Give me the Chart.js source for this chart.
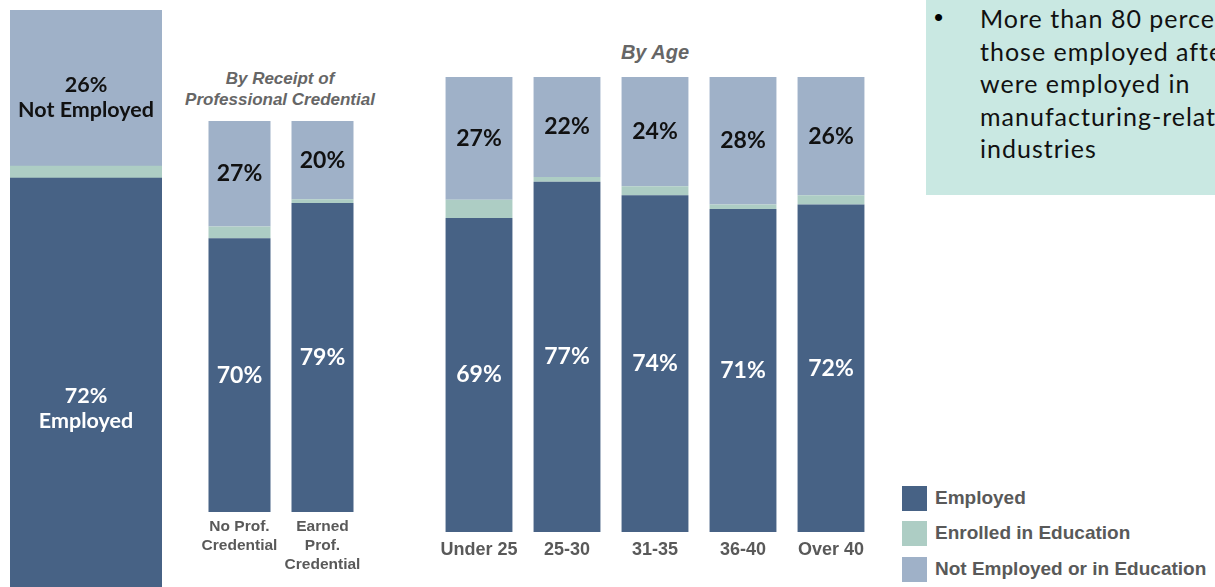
<!DOCTYPE html>
<html>
<head>
<meta charset="utf-8">
<script src="https://cdn.jsdelivr.net/npm/chart.js@4"></script>
<style>
  html, body { margin: 0; padding: 0; background: #fff; }
  body { width: 1215px; height: 587px; overflow: hidden; position: relative; font-family: "Liberation Sans", Arial, sans-serif; }
  canvas { position: absolute; }
  .title { position: absolute; color: #666; font-style: italic; font-weight: bold; text-align: center; }
  .note { position: absolute; left: 926px; top: 0; width: 320px; height: 195px; background: #c9e8e2; }
  .note .dot { position: absolute; left: 8px; top: 2px; font-size: 26px; }
  .note .txt { position: absolute; left: 54px; top: 2px; font-family: Lato, "Noto Sans", sans-serif; font-size: 25px; letter-spacing: 1px; line-height: 32.5px; color: #111; white-space: nowrap; }
  .legend { position: absolute; left: 902px; font-weight: bold; font-size: 19px; color: #595959; white-space: nowrap; }
  .legend span { display: inline-block; width: 25px; height: 25px; vertical-align: middle; margin-right: 8px; }
</style>
</head>
<body>

<canvas id="overallChart" width="152" height="600" style="left:10px; top:10px;"></canvas>
<canvas id="credChart" width="166" height="461" style="left:198px; top:121px;"></canvas>
<canvas id="ageChart" width="440" height="490" style="left:435px; top:77px;"></canvas>

<div class="title" style="left:180px; top:68px; width:200px; font-size:17px; line-height:21px;">By Receipt of<br>Professional Credential</div>
<div class="title" style="left:555px; top:41px; width:200px; font-size:20px;">By Age</div>

<div class="note">
  <div class="dot">&#8226;</div>
  <div class="txt">More than 80 percent of<br>those employed after<br>were employed in<br>manufacturing-related<br>industries</div>
</div>

<div class="legend" style="top:486px;"><span style="background:#476285"></span>Employed</div>
<div class="legend" style="top:521px;"><span style="background:#adcdc4"></span>Enrolled in Education</div>
<div class="legend" style="top:557px;"><span style="background:#9fb1c8"></span>Not Employed or in Education</div>

<script>
// Overall
const overallLabels = ['All'];
const overallEmployed = [72];
const overallEnrolled = [2];
const overallNotEmployed = [26];

// By receipt of professional credential
const credLabels = [['No Prof.', 'Credential'], ['Earned', 'Prof.', 'Credential']];
const credEmployed = [70, 79];
const credEnrolled = [3, 1];
const credNotEmployed = [27, 20];

// By age
const ageLabels = ['Under 25', '25-30', '31-35', '36-40', 'Over 40'];
const ageEmployed = [69, 77, 74, 71, 72];
const ageEnrolled = [4, 1, 2, 1, 2];
const ageNotEmployed = [27, 22, 24, 28, 26];

const colEmployed = '#476285';
const colEnrolled = '#adcdc4';
const colNotEmployed = '#9fb1c8';

// draws the % labels inside the bar segments
const segmentLabels = {
    id: 'segmentLabels',
    afterDatasetsDraw(chart, args, opts) {
        const ctx = chart.ctx;
        ctx.save();
        ctx.textAlign = 'center';
        ctx.textBaseline = 'middle';
        ctx.font = 'bold ' + (opts.size || 21) + 'px Lato, "Noto Sans", sans-serif';
        chart.data.datasets.forEach((ds, di) => {
            if (!ds.labelColor) return;
            chart.getDatasetMeta(di).data.forEach((bar, i) => {
                let lines = [ds.data[i] + '%'];
                if (ds.extraText) lines.push(ds.extraText);
                const shift = ds.labelShift || 0;
                const mid = (bar.y + bar.base) / 2 + shift;
                const lh = 25;
                ctx.fillStyle = ds.labelColor;
                lines.forEach((t, k) => {
                    ctx.fillText(t, bar.x, mid + (k - (lines.length - 1) / 2) * lh);
                });
            });
        });
        ctx.restore();
    }
};

// draws category names under the bars
const categoryLabels = {
    id: 'categoryLabels',
    afterDraw(chart, args, opts) {
        if (!opts.show) return;
        const ctx = chart.ctx;
        const x = chart.scales.x;
        ctx.save();
        ctx.textAlign = 'center';
        ctx.textBaseline = 'middle';
        ctx.fillStyle = '#595959';
        ctx.font = 'bold ' + opts.size + 'px "Liberation Sans", Arial, sans-serif';
        chart.data.labels.forEach((lab, i) => {
            const lines = Array.isArray(lab) ? lab : [lab];
            lines.forEach((t, k) => {
                ctx.fillText(t, x.getPixelForValue(i), chart.chartArea.bottom + opts.top + k * opts.lineHeight);
            });
        });
        ctx.restore();
    }
};

function makeChart(id, labels, employed, enrolled, notEmployed, barPct, padBottom, catOpts, overall) {
    return new Chart(document.getElementById(id), {
        type: 'bar',
        data: {
            labels: labels,
            datasets: [
                { label: 'Employed', data: employed, backgroundColor: colEmployed, labelColor: '#fff',
                  extraText: overall ? 'Employed' : null, labelShift: overall ? 15 : 0 },
                { label: 'Enrolled in Education', data: enrolled, backgroundColor: colEnrolled },
                { label: 'Not Employed or in Education', data: notEmployed, backgroundColor: colNotEmployed, labelColor: '#111',
                  extraText: overall ? 'Not Employed' : null, labelShift: overall ? 10 : 0 }
            ]
        },
        options: {
            responsive: false,
            animation: false,
            layout: { padding: { top: 0, left: 0, right: 0, bottom: padBottom } },
            datasets: { bar: { barPercentage: barPct, categoryPercentage: 1, borderWidth: 0 } },
            scales: {
                x: { stacked: true, display: false },
                y: { stacked: true, display: false, min: 0, max: 100 }
            },
            plugins: {
                legend: { display: false },
                tooltip: { enabled: false },
                segmentLabels: { size: overall ? 21.5 : 23 },
                categoryLabels: catOpts
            }
        },
        plugins: [segmentLabels, categoryLabels]
    });
}

makeChart('overallChart', overallLabels, overallEmployed, overallEnrolled, overallNotEmployed, 1, 0, { show: false }, true);
makeChart('credChart', credLabels, credEmployed, credEnrolled, credNotEmployed, 0.747, 70,
    { show: true, size: 15.5, top: 15, lineHeight: 19 }, false);
makeChart('ageChart', ageLabels, ageEmployed, ageEnrolled, ageNotEmployed, 0.76, 35,
    { show: true, size: 18, top: 18, lineHeight: 20 }, false);
</script>
</body>
</html>
